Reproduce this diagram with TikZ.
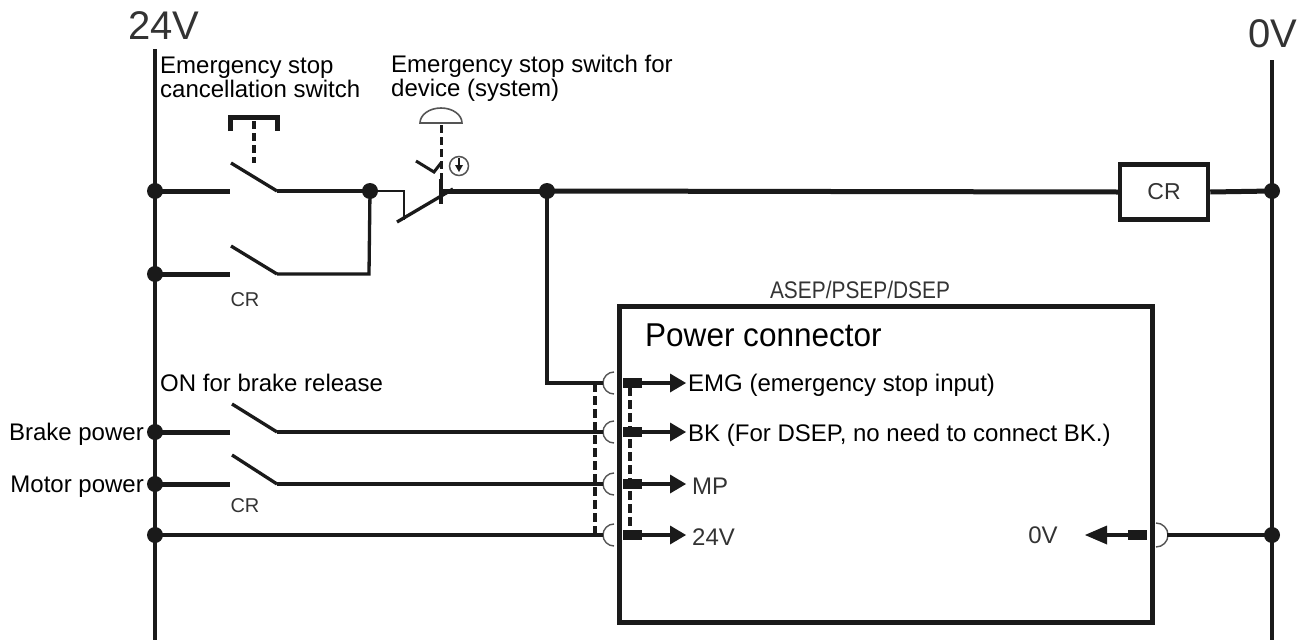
\documentclass[tikz,border=0pt]{standalone}
\usepackage{fontspec}
\setmainfont{Liberation Sans}
\definecolor{ink}{HTML}{1A1A1A}
\definecolor{dim}{HTML}{333333}
\definecolor{thin}{HTML}{555555}
\begin{document}
\begin{tikzpicture}[x=1pt,y=-1pt,
  rail/.style={line width=4pt,draw=ink},
  fatwire/.style={line width=5pt,draw=ink},
  wire/.style={line width=3.3pt,draw=ink},
  blade/.style={line width=3.3pt,draw=ink},
  dot/.style={circle,fill=ink,inner sep=0pt,minimum size=16pt},
  lbl/.style={font=\fontsize{24}{24}\selectfont,inner sep=0pt,text=black},
  glbl/.style={font=\fontsize{24}{24}\selectfont,inner sep=0pt,text=dim},
  slbl/.style={font=\fontsize{20}{20}\selectfont,inner sep=0pt,text=dim},
  biglbl/.style={font=\fontsize{40}{40}\selectfont,inner sep=0pt,text=dim},
  socket/.style={line width=1.4pt,draw=thin},
  dashwire/.style={line width=3.3pt,draw=ink,dash pattern=on 9pt off 4pt},
  plug/.style={fill=ink,draw=none},
  crbox/.style={draw=ink,line width=4.5pt,minimum width=88pt,minimum height=55pt,inner sep=0pt,font=\fontsize{23}{23}\selectfont,text=dim}
]
\useasboundingbox (0,0) rectangle (1310,640);

% rails
\coordinate (Ltop) at (155,49);
\coordinate (Lbot) at (155,640);
\coordinate (Rtop) at (1272,60);
\coordinate (Rbot) at (1272,640);
\draw[rail] (Ltop) -- (Lbot);
\draw[rail] (Rtop) -- (Rbot);
\node[biglbl] (v24) at (164,26) {24V};
\node[biglbl] (v0) at (1273,34) {0V};

% dots on rails
\node[dot] (d1) at (155,191) {};
\node[dot] (d2) at (155,274) {};
\node[dot] (d3) at (155,432) {};
\node[dot] (d4) at (155,484) {};
\node[dot] (d5) at (155,535) {};
\node[dot] (r1) at (1272,191) {};
\node[dot] (r2) at (1272,535) {};
\node[dot] (j1) at (370,191) {};
\node[dot] (j2) at (547,191) {};

% rung 1: cancellation switch
\coordinate (s1a) at (230,191);
\coordinate (s1b) at (231,163);
\coordinate (s1c) at (277,191);
\draw[fatwire] (d1.center) -- (s1a);
\draw[blade] (s1b) -- (s1c);
\draw[wire] (s1c) -- (j1.center);
% push button head
\draw[line width=5pt,draw=ink] (230,131) -- (230,117) -- (277,117) -- (277,131);
\draw[line width=3.5pt,draw=ink,dash pattern=on 8pt off 4pt] (254,121) -- (254,163);

% rung 2: CR self-hold
\coordinate (s2a) at (230,274);
\coordinate (s2b) at (231,246);
\coordinate (s2c) at (277,274);
\coordinate (s2d) at (369,274);
\draw[fatwire] (d2.center) -- (s2a);
\draw[blade] (s2b) -- (s2c);
\draw[wire] (s2c) -- (s2d) -- (j1.center);
\node[slbl] (cr1) at (245,300) {CR};

% emergency stop switch (NC)
\coordinate (e1) at (404,191);
\coordinate (e2) at (404,220);
\coordinate (e3) at (397,222);
\coordinate (e4) at (453,189);
\coordinate (e5) at (441,179);
\coordinate (e6) at (441,204);
\coordinate (e7) at (441,191);
\draw[line width=2.8pt,draw=ink] (j1.center) -- (e1) -- (e2);
\draw[blade] (e3) -- (e4);
\draw[line width=3.3pt,draw=ink] (e5) -- (e6);
\draw[fatwire] (e7) -- (j2.center);
% actuator
\draw[line width=3pt,draw=ink,dash pattern=on 8pt off 4pt] (441,125) -- (441,186);
\draw[line width=3pt,draw=ink] (416,161) -- (434,172) -- (441,163);
\draw[socket,line width=1.6pt] (420,123) arc[start angle=180,end angle=360,x radius=21,y radius=15] -- cycle;
\draw[line width=1.5pt,draw=thin] (459,166) circle[radius=9.5];
\draw[line width=1.5pt,draw=ink] (459,158) -- (459,166);
\fill[ink] (455,165) -- (463,165) -- (459,172) -- cycle;

% rung 1 to CR coil
\node[crbox] (coil) at (1164,192) {CR};
\draw[fatwire] (j2.center) -- (coil.west);
\draw[fatwire] (coil.east) -- (r1.center);

% labels at top
\node[lbl,anchor=base west] (t1) at (160,73) {Emergency stop};
\node[lbl,anchor=base west] (t2) at (160,97) {cancellation switch};
\node[lbl,anchor=base west] (t3) at (391,72) {Emergency stop switch for};
\node[lbl,anchor=base west] (t4) at (391,96) {device (system)};

% brake / motor switches
\coordinate (b1) at (230,432);
\coordinate (b2) at (232,404);
\coordinate (b3) at (277,432);
\coordinate (m1) at (230,484);
\coordinate (m2) at (232,455);
\coordinate (m3) at (277,484);
\draw[fatwire] (d3.center) -- (b1);
\draw[blade] (b2) -- (b3);
\draw[fatwire] (d4.center) -- (m1);
\draw[blade] (m2) -- (m3);
\node[lbl,anchor=base west] (onb) at (160,391) {ON for brake release};
\node[lbl,anchor=base east] (bp) at (144,440.6) {Brake power};
\node[lbl,anchor=base east] (mp) at (144,492.6) {Motor power};
\node[slbl] (cr2) at (245,506) {CR};

% connector box
\node[draw=ink,line width=4.5pt,minimum width=533pt,minimum height=316pt,inner sep=0pt,anchor=north west] (box) at (617,304) {};
\node[font=\fontsize{24}{24}\selectfont,text=dim,inner sep=0pt] (asep) at (860,290) {\scalebox{0.87}[1]{ASEP/PSEP/DSEP}};
\node[font=\fontsize{33}{33}\selectfont,inner sep=0pt,anchor=base west] (pc) at (645,346) {\scalebox{0.955}[1]{Power connector}};

% sockets on left
\foreach \y/\n in {383/sa,432/sb,484/sc,535/sd}{
  \coordinate (\n) at (603,\y);
  \draw[socket] (614,\y+11) arc[start angle=90,end angle=270,radius=11];
  \fill[plug] (623,\y-5) rectangle (642,\y+5);
  \draw[wire] (642,\y) -- (672,\y);
  \fill[ink] (670,\y-9.5) -- (686,\y) -- (670,\y+9.5) -- cycle;
}
\coordinate (emgc) at (547,383);
\draw[wire] (j2.center) -- (emgc) -- (sa);
\draw[wire] (b3) -- (sb);
\draw[wire] (m3) -- (sc);
\draw[wire] (d5.center) -- (sd);

% dashed bundles
\draw[dashwire] (595,383) -- (595,535);
\draw[dashwire] (630,387) -- (630,535);

\node[lbl,anchor=base west] (emg) at (688,391.6) {EMG (emergency stop input)};
\node[lbl,anchor=base west] (bk) at (688,441.6) {BK (For DSEP, no need to connect BK.)};
\node[glbl,anchor=base west] (mpl) at (692,494) {MP};
\node[glbl,anchor=base west] (v24l) at (692,545) {24V};

% 0V pin on right
\coordinate (se) at (1167,535);
\draw[socket] (1156,523) arc[start angle=-90,end angle=90,radius=12];
\fill[plug] (1128,530) rectangle (1147,540);
\draw[wire] (1128,535) -- (1105,535);
\fill[ink] (1107,525.5) -- (1107,544.5) -- (1085,535) -- cycle;
\node[glbl] (v0l) at (1043,535) {0V};
\draw[wire] (se) -- (r2.center);
\end{tikzpicture}
\end{document}
